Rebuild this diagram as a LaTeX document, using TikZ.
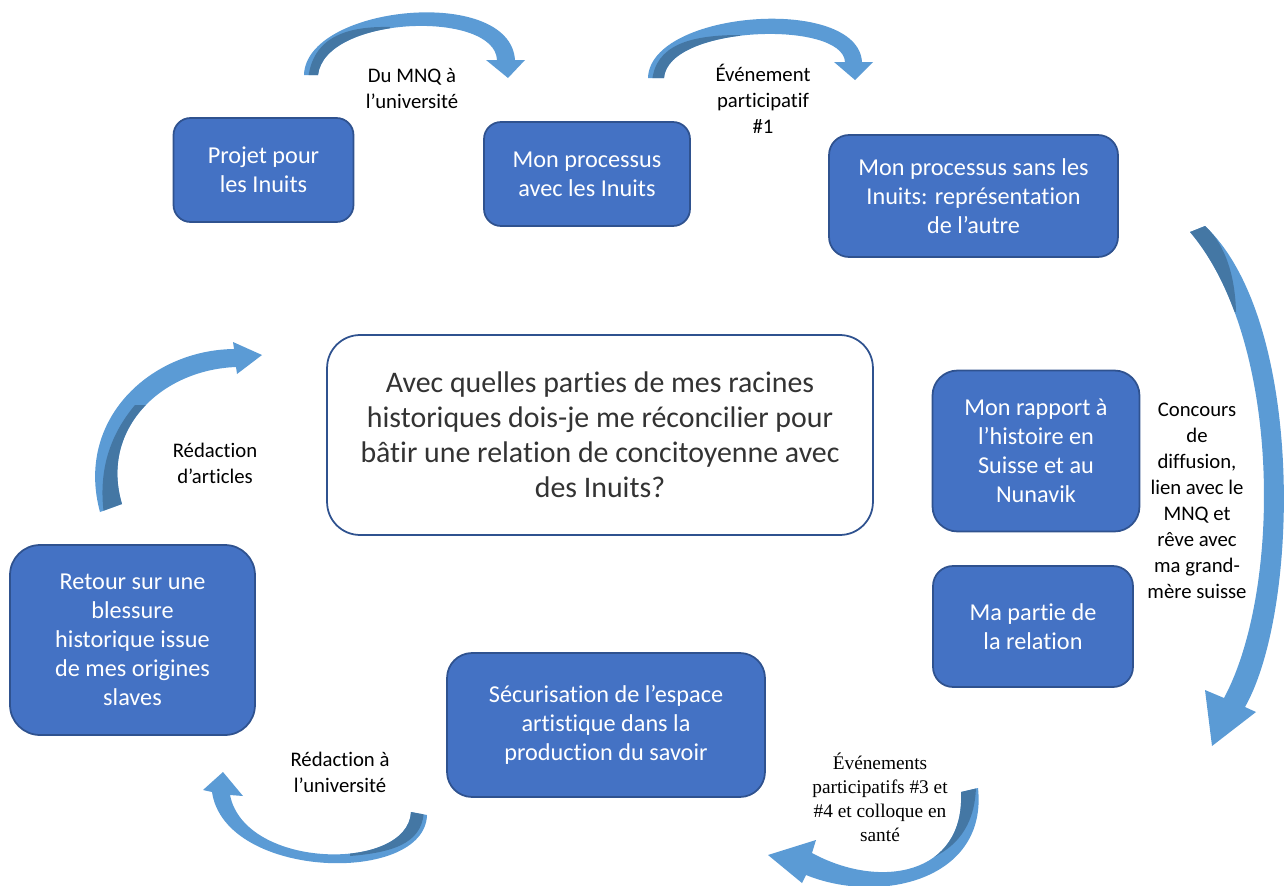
\documentclass[tikz,border=0pt]{standalone}
\usepackage{fontspec}
\setmainfont{Carlito}[Ligatures=NoCommon]
\newfontfamily\timesfont{Liberation Serif}

\definecolor{boxblue}{HTML}{4472C4}
\definecolor{boxedge}{HTML}{2F528F}
\definecolor{arrowblue}{HTML}{5B9BD5}
\definecolor{arrowdark}{HTML}{41719C}

\tikzset{
  procbox/.style={draw=boxedge, fill=boxblue, line width=1pt, text=white, align=center,
    inner sep=0pt, font=\fontsize{13.8}{16.5}\selectfont},
  qbox/.style={draw=boxedge, fill=white, line width=1pt, text=black!80, align=center,
    inner sep=0pt, font=\fontsize{17}{20}\selectfont},
  steplabel/.style={align=center, inner sep=0pt, font=\fontsize{11.8}{14.8}\selectfont},
  curvedarrow/.style={fill=arrowblue},
  arrowshade/.style={fill=arrowdark, fill opacity=0.85}
}

\begin{document}
\begin{tikzpicture}[x=0.02cm, y=-0.02cm]
    \useasboundingbox (0,0) rectangle (1286,886);

    % Process boxes
    \node[procbox, minimum width=3.6cm, minimum height=2.08cm, rounded corners=0.34cm] (proj) at (263.5,170) {Projet pour\\les Inuits};
    \node[procbox, minimum width=4.12cm, minimum height=2.08cm, rounded corners=0.34cm] (avec) at (587,174) {Mon processus\\avec les Inuits};
    \node[procbox, minimum width=5.78cm, minimum height=2.44cm, rounded corners=0.4cm] (sans) at (973.5,196) {Mon processus sans les\\Inuits: représentation\\de l’autre};
    \node[procbox, minimum width=4.14cm, minimum height=3.22cm, rounded corners=0.5cm] (rapport) at (1036,451) {Mon rapport à\\l’histoire en\\Suisse et au\\Nunavik};
    \node[procbox, minimum width=4cm, minimum height=2.42cm, rounded corners=0.4cm] (partie) at (1033,626.5) {Ma partie de\\la relation};
    \node[procbox, minimum width=6.36cm, minimum height=2.88cm, rounded corners=0.5cm] (secur) at (606,725) {Sécurisation de l’espace\\artistique dans la\\production du savoir};
    \node[procbox, minimum width=4.9cm, minimum height=3.8cm, rounded corners=0.6cm] (retour) at (132.5,640) {Retour sur une\\blessure\\historique issue\\de mes origines\\slaves};

    % Central question
    \node[qbox, minimum width=10.92cm, minimum height=4cm, rounded corners=0.66cm] (question) at (600,435) {Avec quelles parties de mes racines\\historiques dois-je me réconcilier pour\\bâtir une relation de concitoyenne avec\\des Inuits?};

    % Curved arrow: projet -> avec
    \begin{scope}
      \clip (304,75) .. controls (306,5) and (510,-15) .. (515,60) -- (525,60) -- (508,78) -- (486,60) -- (497,60) .. controls (495,10) and (325,15) .. (318,75) -- cycle;
      \fill[curvedarrow] (0,0) rectangle (1286,886);
      \fill[arrowshade] (308,80) .. controls (312,38) and (345,26) .. (390,27) -- (390,80) -- cycle;
    \end{scope}

    % Curved arrow: avec -> sans
    \begin{scope}
      \clip (648,78) .. controls (650,10) and (858,-5) .. (862,62) -- (873,62) -- (855,80) -- (834,62) -- (845,62) .. controls (843,20) and (668,25) .. (664,78) -- cycle;
      \fill[curvedarrow] (0,0) rectangle (1286,886);
      \fill[arrowshade] (652,82) .. controls (655,45) and (690,35) .. (740,35) -- (740,82) -- cycle;
    \end{scope}

    % Curved arrow: right side, down to the bottom
    \begin{scope}
      \clip (1205,226) .. controls (1305,320) and (1300,610) .. (1245,707) -- (1256,712) -- (1212,746) -- (1205,690) -- (1224,698) .. controls (1282,590) and (1282,340) .. (1190,232) -- cycle;
      \fill[curvedarrow] (0,0) rectangle (1286,886);
      \fill[arrowshade] (1203,224) .. controls (1222,240) and (1235,270) .. (1236,312) -- (1150,312) -- (1150,222) -- cycle;
    \end{scope}

    % Curved arrow: bottom right, towards secur
    \begin{scope}
      \clip (978,788) .. controls (988,880) and (880,905) .. (806,875) -- (802,883) -- (768,855) -- (816,840) -- (812,853) .. controls (880,890) and (965,875) .. (961,792) -- cycle;
      \fill[curvedarrow] (0,0) rectangle (1286,886);
      \fill[arrowshade] (976,786) .. controls (975,840) and (940,862) .. (895,868) -- (895,770) -- (976,770) -- cycle;
    \end{scope}

    % Curved arrow: bottom left, towards retour
    \begin{scope}
      \clip (427,815) .. controls (425,885) and (225,880) .. (212,792) -- (203,790) -- (223,772) -- (243,796) -- (230,795) .. controls (245,870) and (408,872) .. (411,812) -- cycle;
      \fill[curvedarrow] (0,0) rectangle (1286,886);
      \fill[arrowshade] (424,808) .. controls (424,840) and (400,852) .. (350,856) -- (350,800) -- (424,800) -- cycle;
    \end{scope}

    % Curved arrow: left side, back to the question
    \begin{scope}
      \clip (100,512) .. controls (75,420) and (150,350) .. (234,349) -- (233,342) -- (262,355) -- (237,374) -- (236,367) .. controls (160,370) and (100,430) .. (122,504) -- cycle;
      \fill[curvedarrow] (0,0) rectangle (1286,886);
      \fill[arrowshade] (104,515) .. controls (98,470) and (110,435) .. (135,405) -- (200,405) -- (200,515) -- cycle;
    \end{scope}

    % Arrow labels
    \node[steplabel] (lblmnq) at (412,88) {Du MNQ à\\l’université};
    \node[steplabel] (lblev1) at (763,99) {Événement\\participatif\\\#1};
    \node[steplabel] (lblconc) at (1197,501) {Concours\\de\\diffusion,\\lien avec le\\MNQ et\\rêve avec\\ma grand-\\mère suisse};
    \node[steplabel, font=\timesfont\fontsize{11}{13.7}\selectfont] (lblev34) at (880,797) {Événements\\participatifs \#3 et\\\#4 et colloque en\\santé};
    \node[steplabel] (lblredu) at (340,772) {Rédaction à\\l’université};
    \node[steplabel] (lblart) at (215,463) {Rédaction\\d’articles};
\end{tikzpicture}
\end{document}
